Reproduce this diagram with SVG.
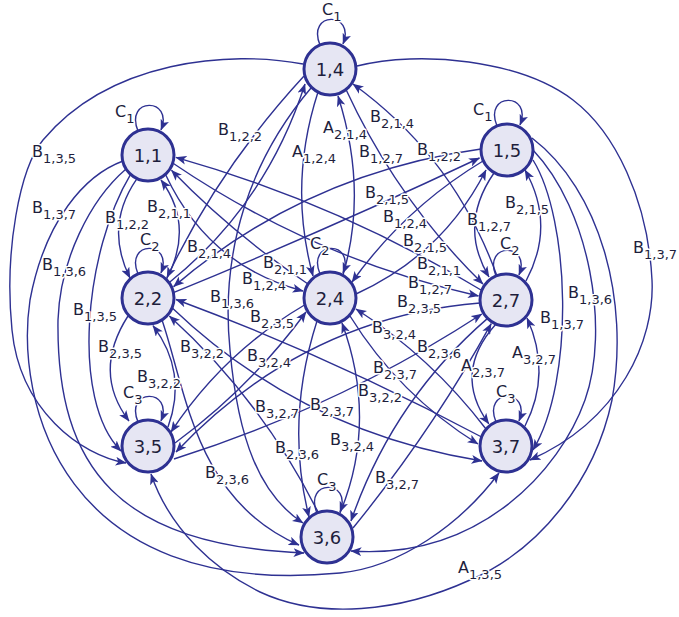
<svg xmlns="http://www.w3.org/2000/svg" width="679" height="617" viewBox="0 0 679 617">
<style>
.e{fill:none;stroke:#2e3192;stroke-width:1.4;marker-end:url(#a)}
.n{fill:#e6e6f3;stroke:#2e3192;stroke-width:3}
.t{font-family:"DejaVu Sans",sans-serif;font-size:18px;fill:#1e1e3c;text-anchor:middle}
.l{font-family:"DejaVu Sans",sans-serif;font-size:16px;fill:#1e1e3c;stroke:#fff;stroke-width:3;stroke-linejoin:round;paint-order:stroke}
.s{font-size:13px}
</style>
<defs>
<marker id="a" viewBox="0 0 10 8" refX="9.5" refY="4" markerWidth="11" markerHeight="9" markerUnits="userSpaceOnUse" orient="auto">
<path d="M0,0 L10,4 L0,8 L2.5,4 Z" fill="#2e3192"/>
</marker>
</defs>
<rect width="679" height="617" fill="#fff"/>
<g id="edges">
<path class="e" d="M138,131 C124,97 174,97 161,130"/>
<path class="e" d="M320,45 C306,11 356,11 343,44"/>
<path class="e" d="M497,126 C483,92 533,92 520,125"/>
<path class="e" d="M138,274 C124,240 174,240 161,273"/>
<path class="e" d="M320,274 C306,240 356,240 343,273"/>
<path class="e" d="M496,276 C482,242 532,242 519,275"/>
<path class="e" d="M138,422 C124,388 174,388 161,421"/>
<path class="e" d="M317,513 C303,479 353,479 340,512"/>
<path class="e" d="M496,422 C482,388 532,388 519,421"/>
<path class="e" d="M137,178.6 Q104,226 130,278"/>
<path class="e" d="M166,280 Q195,226 161,180"/>
<path class="e" d="M128,316 Q92,372 129,421"/>
<path class="e" d="M168,427 Q188,372 153,325.6"/>
<path class="e" d="M494,173 Q458,225 489,277"/>
<path class="e" d="M526,281 Q556,225 525,170"/>
<path class="e" d="M496,324 Q452,373 488.8,423.9"/>
<path class="e" d="M525,426 Q552,373 527,318"/>
<path class="e" d="M318,92 Q288,185 313,276"/>
<path class="e" d="M343,275 Q368,190 338,96"/>
<path class="e" d="M317,321 Q285,421 309,517"/>
<path class="e" d="M340,513 Q378,421 342,323"/>
<path class="e" d="M165.4,174.3 Q208,266 303,291"/>
<path class="e" d="M172.7,163 Q314,259 478.5,296"/>
<path class="e" d="M304,76 Q219,168 167,277.5"/>
<path class="e" d="M346,89.5 Q397,200 483,284"/>
<path class="e" d="M481,149 Q306.5,173 173.6,286.6"/>
<path class="e" d="M483,161 Q405,208 352,282"/>
<path class="e" d="M169,282.7 Q266,205 305,84"/>
<path class="e" d="M173.4,292.6 Q329,229 479.5,158"/>
<path class="e" d="M308,284 Q233,234 171.5,170.3"/>
<path class="e" d="M356,294 Q443.5,254 486,170"/>
<path class="e" d="M481,290 Q337,203 175.9,157.4"/>
<path class="e" d="M497,276 Q454,157 353,84"/>
<path class="e" d="M162,320 C186,390 195,500 299,545"/>
<path class="e" d="M172,307.7 Q302,432 482,461"/>
<path class="e" d="M304.5,305 Q223,353 171,432"/>
<path class="e" d="M350,316 Q399,395 478,444"/>
<path class="e" d="M480,303 Q304,317 176,452"/>
<path class="e" d="M487.6,318.4 Q392.6,400.4 351,521"/>
<path class="e" d="M175,443 Q251,387 306,312"/>
<path class="e" d="M174,459 Q340.6,406 481.8,314"/>
<path class="e" d="M318,512 Q261.5,399.5 169.4,316"/>
<path class="e" d="M353,528 Q432.5,430.6 491.2,323.7"/>
<path class="e" d="M481.6,437 Q333,358 176,299.5"/>
<path class="e" d="M486,429 Q431,357 356,309"/>
<path class="e" d="M130.6,174.3 C85,250 70,400 121,451"/>
<path class="e" d="M126,169 C90,200 60,260 58,320 C56,470 120,545 304,553"/>
<path class="e" d="M123,161 C85,175 45,220 30,300 C15,400 60,600 340,573 C400,567 460,525 499,473"/>
<path class="e" d="M303,64 C230,50 110,60 43,140 C20,168 4,250 12,330 C20,410 80,455 126,463"/>
<path class="e" d="M311,88 C250,160 220,250 230,350 C238,440 260,495 303,523"/>
<path class="e" d="M357,66 C420,50 520,60 573,100 C615,132 648,200 652,280 C655,340 620,420 530,460"/>
<path class="e" d="M533,160 C570,220 575,380 533,450"/>
<path class="e" d="M533,150 C590,210 610,330 585,400 C560,470 480,560 351,551"/>
<path class="e" d="M532,138 C600,190 630,300 612,400 C595,480 540,550 470,580 C400,612 320,620 260,592 C215,570 170,530 151,474"/>
</g>
<g id="edge-labels">
<text class="l" x="115" y="117">C<tspan class="s" dy="6">1</tspan></text>
<text class="l" x="322" y="15">C<tspan class="s" dy="6">1</tspan></text>
<text class="l" x="473" y="115">C<tspan class="s" dy="6">1</tspan></text>
<text class="l" x="140" y="245">C<tspan class="s" dy="6">2</tspan></text>
<text class="l" x="310" y="249">C<tspan class="s" dy="6">2</tspan></text>
<text class="l" x="500" y="249">C<tspan class="s" dy="6">2</tspan></text>
<text class="l" x="123" y="398">C<tspan class="s" dy="6">3</tspan></text>
<text class="l" x="317" y="485">C<tspan class="s" dy="6">3</tspan></text>
<text class="l" x="496" y="397">C<tspan class="s" dy="6">3</tspan></text>
<text class="l" x="32" y="157">B<tspan class="s" dy="6">1,3,5</tspan></text>
<text class="l" x="32" y="213">B<tspan class="s" dy="6">1,3,7</tspan></text>
<text class="l" x="42" y="270">B<tspan class="s" dy="6">1,3,6</tspan></text>
<text class="l" x="73" y="315">B<tspan class="s" dy="6">1,3,5</tspan></text>
<text class="l" x="105" y="223">B<tspan class="s" dy="6">1,2,2</tspan></text>
<text class="l" x="147" y="212">B<tspan class="s" dy="6">2,1,1</tspan></text>
<text class="l" x="98" y="352">B<tspan class="s" dy="6">2,3,5</tspan></text>
<text class="l" x="137" y="382">B<tspan class="s" dy="6">3,2,2</tspan></text>
<text class="l" x="218" y="135">B<tspan class="s" dy="6">1,2,2</tspan></text>
<text class="l" x="292" y="157">A<tspan class="s" dy="6">1,2,4</tspan></text>
<text class="l" x="323" y="133">A<tspan class="s" dy="6">2,1,4</tspan></text>
<text class="l" x="370" y="122">B<tspan class="s" dy="6">2,1,4</tspan></text>
<text class="l" x="359" y="157">B<tspan class="s" dy="6">1,2,7</tspan></text>
<text class="l" x="417" y="155">B<tspan class="s" dy="6">1,2,2</tspan></text>
<text class="l" x="365" y="198">B<tspan class="s" dy="6">2,1,5</tspan></text>
<text class="l" x="383" y="222">B<tspan class="s" dy="6">1,2,4</tspan></text>
<text class="l" x="403" y="246">B<tspan class="s" dy="6">2,1,5</tspan></text>
<text class="l" x="417" y="269">B<tspan class="s" dy="6">2,1,1</tspan></text>
<text class="l" x="408" y="288">B<tspan class="s" dy="6">1,2,7</tspan></text>
<text class="l" x="467" y="225">B<tspan class="s" dy="6">1,2,7</tspan></text>
<text class="l" x="505" y="208">B<tspan class="s" dy="6">2,1,5</tspan></text>
<text class="l" x="187" y="252">B<tspan class="s" dy="6">2,1,4</tspan></text>
<text class="l" x="263" y="268">B<tspan class="s" dy="6">2,1,1</tspan></text>
<text class="l" x="242" y="284">B<tspan class="s" dy="6">1,2,4</tspan></text>
<text class="l" x="210" y="302">B<tspan class="s" dy="6">1,3,6</tspan></text>
<text class="l" x="250" y="322">B<tspan class="s" dy="6">2,3,5</tspan></text>
<text class="l" x="180" y="352">B<tspan class="s" dy="6">3,2,2</tspan></text>
<text class="l" x="247" y="361">B<tspan class="s" dy="6">3,2,4</tspan></text>
<text class="l" x="397" y="307">B<tspan class="s" dy="6">2,3,5</tspan></text>
<text class="l" x="372" y="333">B<tspan class="s" dy="6">3,2,4</tspan></text>
<text class="l" x="417" y="352">B<tspan class="s" dy="6">2,3,6</tspan></text>
<text class="l" x="461" y="371">A<tspan class="s" dy="6">2,3,7</tspan></text>
<text class="l" x="512" y="358">A<tspan class="s" dy="6">3,2,7</tspan></text>
<text class="l" x="540" y="323">B<tspan class="s" dy="6">1,3,7</tspan></text>
<text class="l" x="568" y="298">B<tspan class="s" dy="6">1,3,6</tspan></text>
<text class="l" x="633" y="253">B<tspan class="s" dy="6">1,3,7</tspan></text>
<text class="l" x="373" y="373">B<tspan class="s" dy="6">2,3,7</tspan></text>
<text class="l" x="358" y="396">B<tspan class="s" dy="6">3,2,2</tspan></text>
<text class="l" x="255" y="412">B<tspan class="s" dy="6">3,2,7</tspan></text>
<text class="l" x="310" y="410">B<tspan class="s" dy="6">2,3,7</tspan></text>
<text class="l" x="275" y="453">B<tspan class="s" dy="6">2,3,6</tspan></text>
<text class="l" x="330" y="445">B<tspan class="s" dy="6">3,2,4</tspan></text>
<text class="l" x="205" y="478">B<tspan class="s" dy="6">2,3,6</tspan></text>
<text class="l" x="375" y="483">B<tspan class="s" dy="6">3,2,7</tspan></text>
<text class="l" x="458" y="573">A<tspan class="s" dy="6">1,3,5</tspan></text>
</g>
<g id="n11"><circle class="n" cx="148" cy="155" r="26"/><text class="t" x="148" y="161.5">1,1</text></g>
<g id="n14"><circle class="n" cx="330" cy="69" r="26"/><text class="t" x="330" y="75.5">1,4</text></g>
<g id="n15"><circle class="n" cx="507" cy="150" r="26"/><text class="t" x="507" y="156.5">1,5</text></g>
<g id="n22"><circle class="n" cx="148" cy="298" r="26"/><text class="t" x="148" y="304.5">2,2</text></g>
<g id="n24"><circle class="n" cx="330" cy="298" r="26"/><text class="t" x="330" y="304.5">2,4</text></g>
<g id="n27"><circle class="n" cx="506" cy="300" r="26"/><text class="t" x="506" y="306.5">2,7</text></g>
<g id="n35"><circle class="n" cx="148" cy="446" r="26"/><text class="t" x="148" y="452.5">3,5</text></g>
<g id="n36"><circle class="n" cx="327" cy="537" r="26"/><text class="t" x="327" y="543.5">3,6</text></g>
<g id="n37"><circle class="n" cx="506" cy="446" r="26"/><text class="t" x="506" y="452.5">3,7</text></g>
</svg>
